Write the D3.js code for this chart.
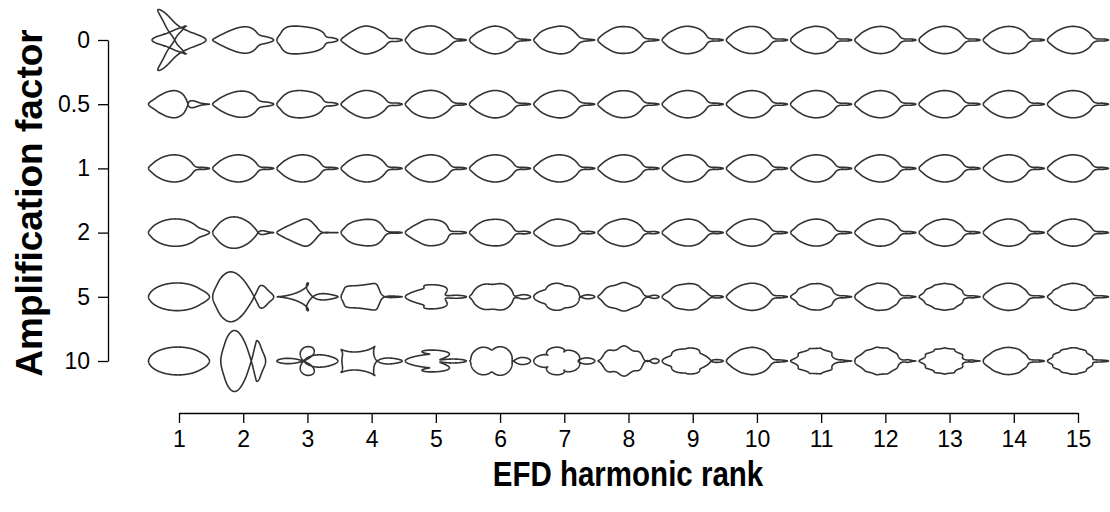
<!DOCTYPE html>
<html>
<head>
<meta charset="utf-8">
<script src="https://cdn.jsdelivr.net/npm/d3@7"></script>
<style>
  body { margin: 0; background: #fff; }
  svg { display: block; }
  text { font-family: "Liberation Sans", Arial, sans-serif; fill: #000; }
</style>
</head>
<body>
<svg id="chart" width="1110" height="512"></svg>
<script>
// Harmonic ranks (columns) and amplification factors (rows)
const harmonicRanks = [1, 2, 3, 4, 5, 6, 7, 8, 9, 10, 11, 12, 13, 14, 15];
const amplificationFactors = [0, 0.5, 1, 2, 5, 10];
const factorLabels = ["0", "0.5", "1", "2", "5", "10"];

// Upper half of the reference outline (left tip -> tail tip), mirrored below
const outlineX = [0, 2, 5, 9, 14, 20, 26, 32, 37, 41, 44, 46, 48, 52, 58, 63];
const outlineY = [0, 2.2, 5.2, 8.2, 11, 13, 13.8, 13.2, 11.5, 9, 6, 3.5, 1.6, 1.0, 1.0, 0];

const nHarmonics = 15;
const shapeSize = 61;

// ---- Elliptic Fourier decomposition of the closed outline ----
function closedOutline() {
  const pts = outlineX.map((x, i) => [x, outlineY[i]]);
  const lower = outlineX.slice(1, -1).map((x, i) => [x, -outlineY[i + 1]]).reverse();
  return pts.concat(lower);
}

function resampleByArcLength(pts, n) {
  const closed = pts.concat([pts[0]]);
  const cum = [0];
  for (let i = 1; i < closed.length; i++) {
    cum.push(cum[i - 1] + Math.hypot(closed[i][0] - closed[i - 1][0], closed[i][1] - closed[i - 1][1]));
  }
  const total = cum[cum.length - 1];
  const out = [];
  let seg = 1;
  for (let j = 0; j < n; j++) {
    const s = total * j / n;
    while (cum[seg] < s) seg++;
    const t = (s - cum[seg - 1]) / (cum[seg] - cum[seg - 1]);
    out.push([
      closed[seg - 1][0] + t * (closed[seg][0] - closed[seg - 1][0]),
      closed[seg - 1][1] + t * (closed[seg][1] - closed[seg - 1][1])
    ]);
  }
  return out;
}

function efd(pts, nh) {
  const N = pts.length;
  const coefs = [];
  for (let h = 1; h <= nh; h++) {
    let a = 0, b = 0, c = 0, d = 0;
    for (let j = 0; j < N; j++) {
      const th = 2 * Math.PI * h * j / N;
      a += pts[j][0] * Math.cos(th);
      b += pts[j][0] * Math.sin(th);
      c += pts[j][1] * Math.cos(th);
      d += pts[j][1] * Math.sin(th);
    }
    coefs.push({a: 2 * a / N, b: 2 * b / N, c: 2 * c / N, d: 2 * d / N});
  }
  return coefs;
}

const coefs = efd(resampleByArcLength(closedOutline(), 4096), nHarmonics);

// Rebuild the outline with one harmonic scaled by the amplification factor
function reconstruct(rank, factor, m = 600) {
  const pts = [];
  for (let j = 0; j <= m; j++) {
    const th = 2 * Math.PI * j / m;
    let x = 0, y = 0;
    coefs.forEach((k, i) => {
      const w = (i + 1 === rank) ? factor : 1;
      const h = i + 1;
      x += w * (k.a * Math.cos(h * th) + k.b * Math.sin(h * th));
      y += w * (k.c * Math.cos(h * th) + k.d * Math.sin(h * th));
    });
    pts.push([x, y]);
  }
  return pts;
}

// ---- Chart ----
const svg = d3.select("#chart");
const x = d3.scaleLinear().domain([1, 15]).range([179, 1078]);
const y = d3.scalePoint().domain(amplificationFactors).range([40, 361]);

const line = d3.line();
const cells = [];
amplificationFactors.forEach(f => harmonicRanks.forEach(r => cells.push({f, r})));

svg.append("g").selectAll("path").data(cells).join("path")
  .attr("d", d => {
    const pts = reconstruct(d.r, d.f);
    const [x0, x1] = d3.extent(pts, p => p[0]);
    const [y0, y1] = d3.extent(pts, p => p[1]);
    const s = shapeSize / Math.max(x1 - x0, y1 - y0);
    const mx = (x0 + x1) / 2, my = (y0 + y1) / 2;
    const cx = x(d.r), cy = y(d.f);
    return line(pts.map(p => [cx + (p[0] - mx) * s, cy - (p[1] - my) * s]));
  })
  .attr("fill", "none")
  .attr("stroke", "#333")
  .attr("stroke-width", 1.6)
  .attr("stroke-linejoin", "round");

// Left axis
const yAxis = svg.append("g").attr("transform", "translate(108,0)")
  .call(d3.axisLeft(y).tickSizeInner(10).tickSizeOuter(0).tickPadding(8)
    .tickFormat((d, i) => factorLabels[i]));
// Bottom axis
const xAxis = svg.append("g").attr("transform", "translate(0,413)")
  .call(d3.axisBottom(x).tickValues(harmonicRanks).tickSizeInner(10).tickSizeOuter(0).tickPadding(8)
    .tickFormat(d3.format("d")));

[yAxis, xAxis].forEach(g => {
  g.attr("font-size", null).attr("font-family", null);
  g.selectAll("text").style("font-size", "23px").style("font-family", "'Liberation Sans', Arial, sans-serif").attr("fill", "#000");
  g.selectAll("line, path").attr("stroke", "#000").attr("stroke-width", 1.3);
});

svg.append("text")
  .attr("transform", "translate(628,486) scale(0.82,1)")
  .attr("text-anchor", "middle")
  .style("font-size", "36px").attr("font-weight", "bold")
  .text("EFD harmonic rank");

svg.append("text")
  .attr("transform", "translate(42,203) rotate(-90)")
  .attr("text-anchor", "middle")
  .style("font-size", "37px").attr("font-weight", "bold")
  .text("Amplification factor");
</script>
</body>
</html>
